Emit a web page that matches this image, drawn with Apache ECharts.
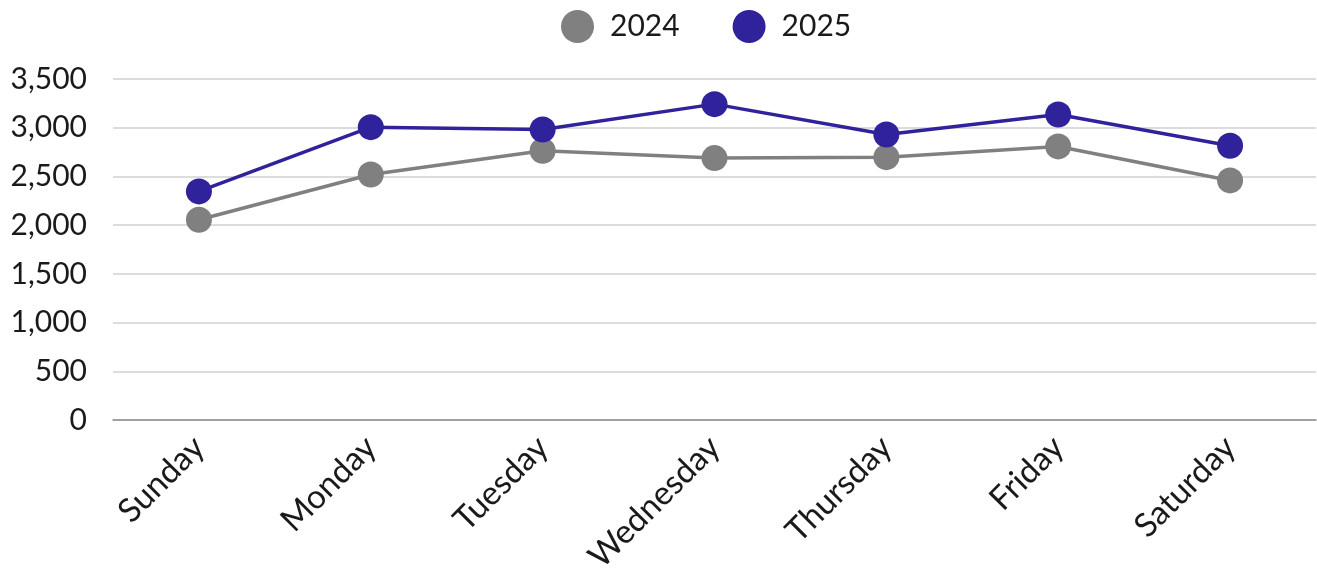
<!DOCTYPE html>
<html>
<head>
<meta charset="utf-8">
<script src="https://cdn.jsdelivr.net/npm/echarts@6/dist/echarts.min.js"></script>
<style>
html,body{margin:0;padding:0;background:#fff;}
#chart{width:1317px;height:586px;}
</style>
</head>
<body>
<div id="chart"></div>
<script>
const categories = ['Sunday','Monday','Tuesday','Wednesday','Thursday','Friday','Saturday'];
const series2024 = [2055, 2520, 2764, 2688, 2698, 2808, 2459];
const series2025 = [2346, 3006, 2982, 3242, 2931, 3136, 2815];
const seriesNames = ['2024','2025'];
const colors = ['#808080','#30229b'];

const font = 'Lato, "DejaVu Sans", sans-serif';
const chart = echarts.init(document.getElementById('chart'), null, {renderer:'canvas'});
chart.setOption({
  animation:false,
  color: colors,
  textStyle:{fontFamily:font},
  legend:{
    data: seriesNames,
    left: 556, top: 5,
    icon:'circle',
    itemWidth:33, itemHeight:33,
    itemGap:53,
    textStyle:{fontSize:30, color:'#1a1a1a', fontFamily:font, padding:[0,0,0,11]}
  },
  grid:{left:113, right:1, top:79, bottom:166, containLabel:false},
  xAxis:{
    type:'category',
    data: categories,
    boundaryGap:true,
    axisLine:{lineStyle:{color:'#8c8c8c', width:1.5}},
    axisTick:{show:false},
    axisLabel:{rotate:45, fontSize:33, color:'#1a1a1a', margin:22, fontFamily:font}
  },
  yAxis:{
    type:'value',
    min:0, max:3500, interval:500,
    axisLine:{show:false},
    axisTick:{show:false},
    splitLine:{lineStyle:{color:'#d0d0d0', width:1.5}},
    axisLabel:{fontSize:30, color:'#1a1a1a', margin:26, fontFamily:font,
      formatter: v => v.toLocaleString('en-US')}
  },
  series:[
    {name:seriesNames[0], type:'line', data:series2024, symbol:'circle', symbolSize:26,
     lineStyle:{width:3.5, color:colors[0]}, itemStyle:{color:colors[0]}},
    {name:seriesNames[1], type:'line', data:series2025, symbol:'circle', symbolSize:26,
     lineStyle:{width:3.5, color:colors[1]}, itemStyle:{color:colors[1]}}
  ]
});
</script>
</body>
</html>
